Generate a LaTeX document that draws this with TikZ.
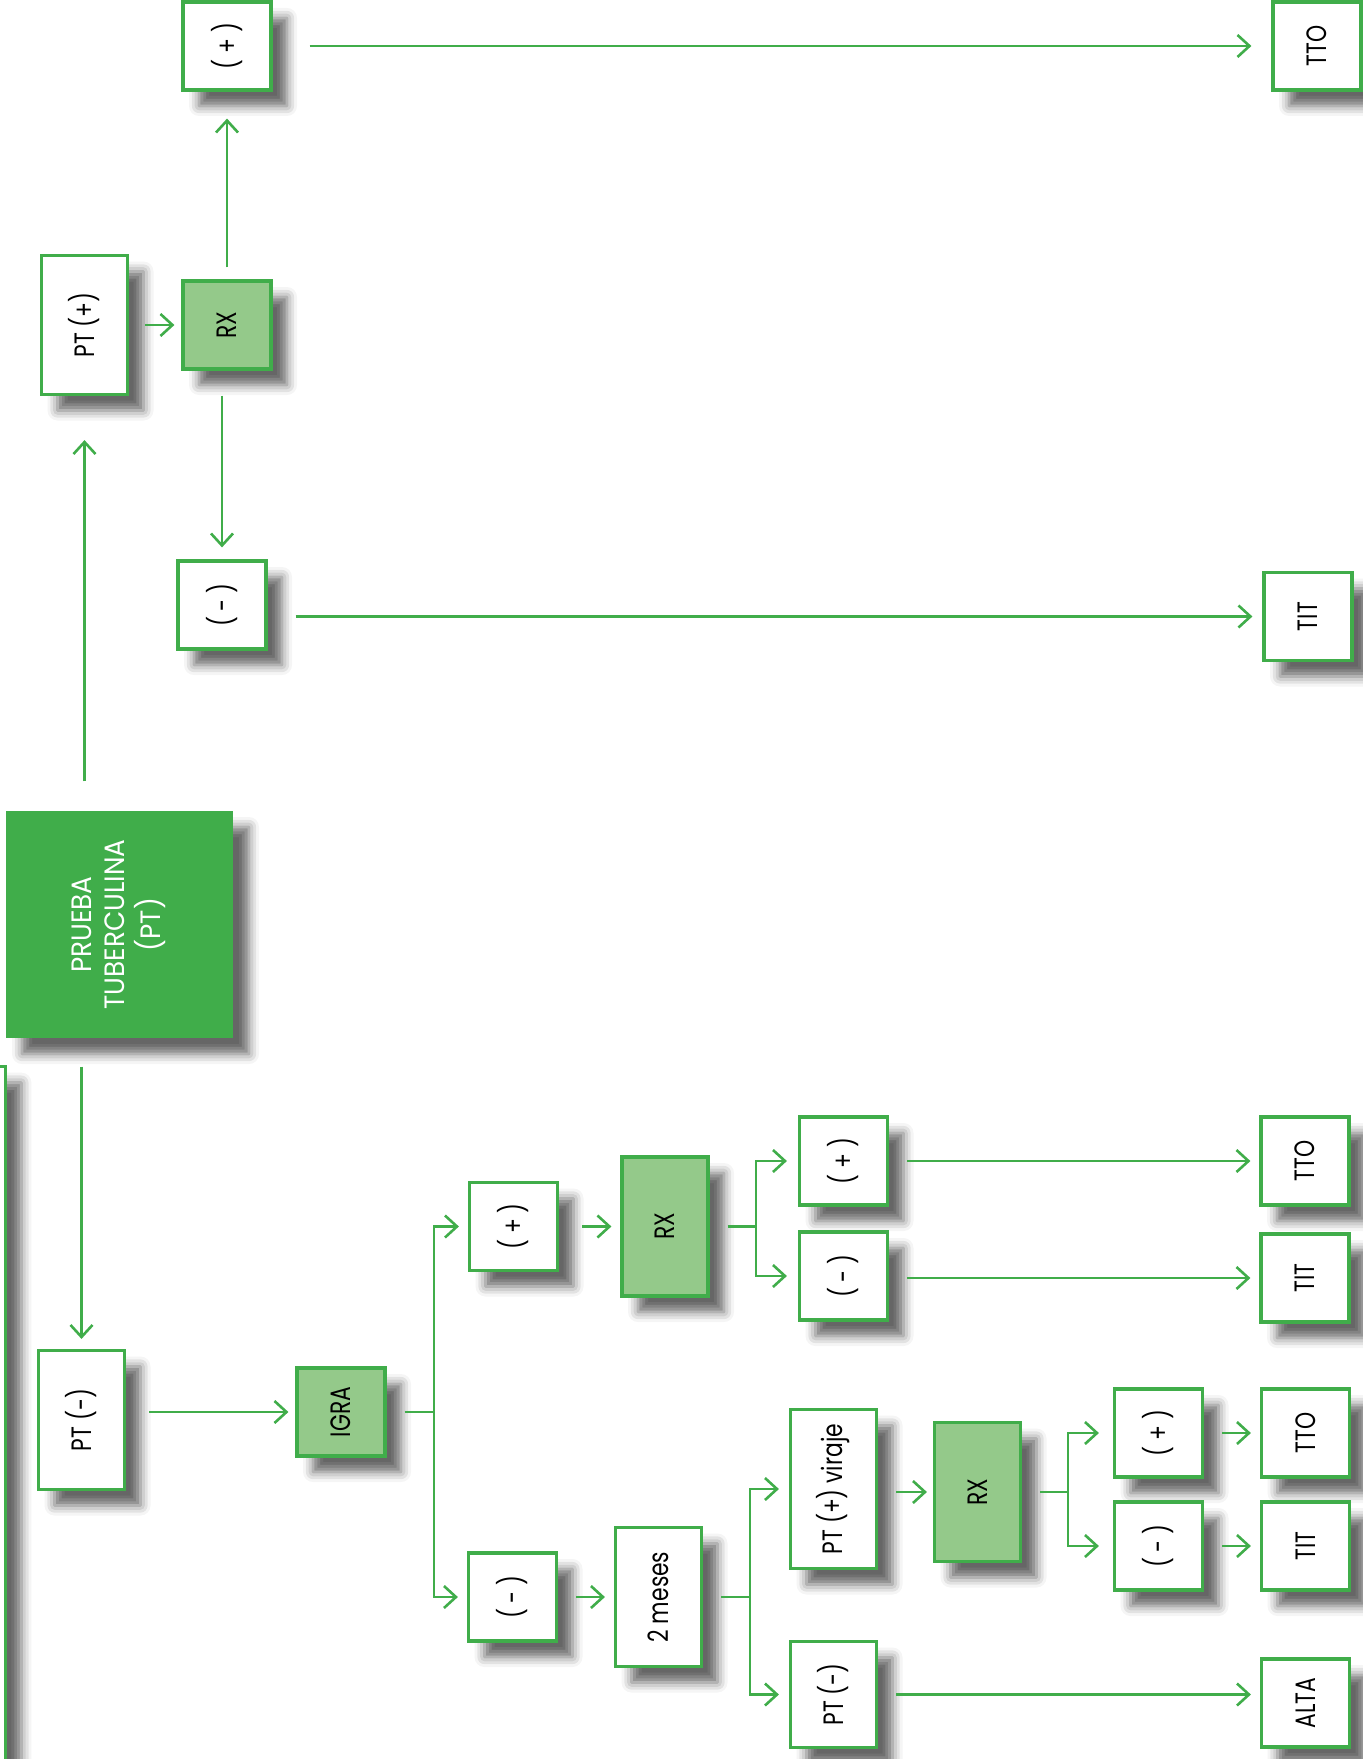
\documentclass[tikz,border=0pt]{standalone}
\usepackage{fontspec}
\setmainfont{Poppins}
\usepackage{graphicx}
\usetikzlibrary{arrows.meta}
\usetikzlibrary{shadows.blur}
\definecolor{ptgreen}{RGB}{64,173,74}
\definecolor{rxgreen}{RGB}{148,201,138}
\newcommand{\vlabel}[1]{\rotatebox{90}{\scalebox{0.78}[1]{#1}}}
\newcommand{\vmain}[1]{\rotatebox{90}{\scalebox{0.94}[1]{#1}}}
\tikzstyle{box}=[draw=ptgreen, line width=1.6pt, fill=white, inner sep=0pt, font=\fontsize{14}{16.5}\selectfont, blur shadow={shadow xshift=8pt, shadow yshift=-8pt, shadow blur radius=5pt, shadow opacity=60}]
\tikzstyle{square}=[box, minimum width=44pt, minimum height=44pt]
\tikzstyle{tall}=[box, minimum width=43pt, minimum height=69.5pt]
\tikzstyle{rxbox}=[fill=rxgreen]
\tikzstyle{mainbox}=[box, draw=none, fill=ptgreen, text=white, minimum size=113.5pt]
\tikzstyle{link}=[draw=ptgreen, line width=1.3pt, shorten <=9pt]
\tikzstyle{flow}=[link, -{Straight Barb[length=6pt,width=11pt]}, shorten >=4.5pt]
\tikzstyle{split arrow}=[flow, shorten <=0pt]

\begin{document}
\begin{tikzpicture}[x=0.5pt, y=-0.5pt]
  \useasboundingbox (0,0) rectangle (1363,1759);
  \clip (0,0) rectangle (1363,1759);

  % box cut by the left edge
  \node[box, minimum width=100pt, minimum height=400pt, anchor=north east] (prev) at (7,1065) {};

  \node[mainbox] (main) at (119.5,924.5) {\vmain{\begin{tabular}{@{}c@{}}PRUEBA\\TUBERCULINA\\(PT)\end{tabular}}};

  % upper branch
  \node[tall] (ptpos) at (84.5,325) {\vlabel{PT (+)}};
  \node[square, rxbox] (rx1) at (227,325) {\vlabel{RX}};
  \node[square] (pos1) at (227,46) {\vlabel{( + )}};
  \node[square] (neg1) at (222,605) {\vlabel{( - )}};
  \node[square] (tto1) at (1317,46) {\vlabel{TTO}};
  \node[square] (tit1) at (1308,616.5) {\vlabel{TIT}};

  % lower branch
  \node[tall] (ptneg) at (81.5,1420) {\vlabel{PT (-)}};
  \node[square, rxbox] (igra) at (341,1412) {\vlabel{IGRA}};
  \node[square] (posi) at (513.5,1226.5) {\vlabel{( + )}};
  \node[square] (negi) at (512.5,1597) {\vlabel{( - )}};
  \node[tall, rxbox] (rx2) at (665,1226.5) {\vlabel{RX}};
  \node[square] (pos3) at (843.5,1161) {\vlabel{( + )}};
  \node[square] (neg3) at (843.5,1276) {\vlabel{( - )}};
  \node[square] (tto2) at (1305,1161) {\vlabel{TTO}};
  \node[square] (tit2) at (1305,1278) {\vlabel{TIT}};
  \node[tall] (meses) at (658.5,1597) {\vlabel{2 meses}};
  \node[tall, minimum height=79.5pt] (viraje) at (833.5,1489) {\vlabel{PT (+) viraje}};
  \node[tall, minimum height=53pt] (ptneg2) at (833.5,1694.5) {\vlabel{PT (-)}};
  \node[tall, rxbox] (rx3) at (977.5,1492) {\vlabel{RX}};
  \node[square] (pos4) at (1158.5,1433) {\vlabel{( + )}};
  \node[square] (neg4) at (1158.5,1546) {\vlabel{( - )}};
  \node[square] (tto3) at (1305.5,1433) {\vlabel{TTO}};
  \node[square] (tit3) at (1305.5,1546) {\vlabel{TIT}};
  \node[square] (alta) at (1305.5,1703) {\vlabel{ALTA}};

  \coordinate (igrasplit) at (434,1412);
  \coordinate (rx2split) at (756,1226.5);
  \coordinate (mesessplit) at (750,1597);
  \coordinate (rx3split) at (1068,1492);

  \draw[flow, shorten <=14pt, shorten >=22pt] (main.north -| ptpos) -- (ptpos);
  \draw[flow, shorten <=13.5pt, shorten >=5pt] (main.south -| ptneg) -- (ptneg);
  \draw[flow, shorten <=8pt, shorten >=3.5pt] (ptpos) -- (rx1);
  \draw[flow, shorten <=6pt, shorten >=13.5pt] (rx1) -- (pos1);
  \draw[flow, shorten <=12.5pt, shorten >=6pt] (rx1.south -| neg1) -- (neg1);
  \draw[flow, shorten <=18.5pt, shorten >=10pt] (pos1) -- (tto1);
  \draw[flow, shorten <=14pt, shorten >=5pt] (neg1.east |- tit1) -- (tit1);

  \draw[flow, shorten <=11.5pt, shorten >=3.5pt] (ptneg.east |- igra) -- (igra);
  \draw[link] (igra) -- (igrasplit);
  \draw[split arrow] (igrasplit) |- (posi);
  \draw[split arrow] (igrasplit) |- (negi);
  \draw[flow, shorten <=11.5pt] (posi) -- (rx2);
  \draw[link] (rx2) -- (rx2split);
  \draw[split arrow, shorten >=5.5pt] (rx2split) |- (pos3);
  \draw[split arrow, shorten >=5.5pt] (rx2split) |- (neg3);
  \draw[flow] (pos3) -- (tto2);
  \draw[flow] (neg3.east |- tit2) -- (tit2);

  \draw[flow] (negi) -- (meses);
  \draw[link] (meses) -- (mesessplit);
  \draw[split arrow, shorten >=5pt] (mesessplit) |- (viraje);
  \draw[split arrow, shorten >=5pt] (mesessplit) |- (ptneg2);
  \draw[flow, shorten >=3pt] (viraje.east |- rx3) -- (rx3);
  \draw[flow] (ptneg2) -- (ptneg2 -| alta.west);
  \draw[link] (rx3) -- (rx3split);
  \draw[split arrow, shorten >=7pt] (rx3split) |- (pos4);
  \draw[split arrow, shorten >=7pt] (rx3split) |- (neg4);
  \draw[flow] (pos4) -- (tto3);
  \draw[flow] (neg4) -- (tit3);
\end{tikzpicture}
\end{document}
